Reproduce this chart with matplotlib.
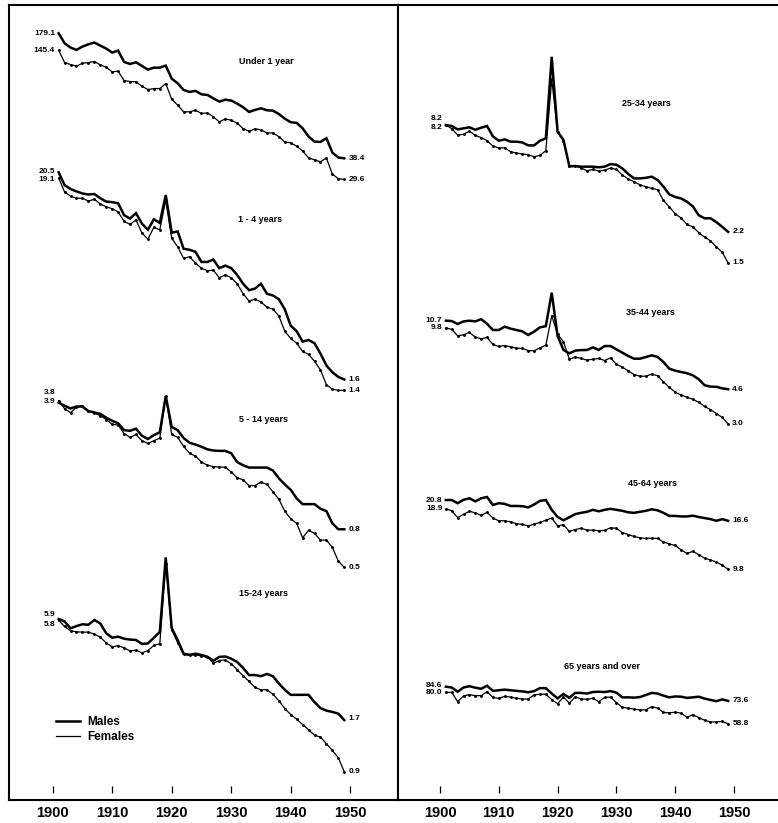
#!/usr/bin/env python3
"""Death rates per 1,000 by age group and sex, 1901-1949 (ratio scale)."""

import matplotlib.pyplot as plt
from matplotlib.lines import Line2D
from matplotlib.transforms import blended_transform_factory

YEARS = list(range(1901, 1950))

UNDER1_M = [179.1, 158.4, 150.2, 145.9, 152.0, 156.4, 159.7, 153.9, 148.3, 141.2,
            144.7, 125.8, 122.8, 125.3, 119.8, 114.5, 117.3, 117.3, 120.3, 102.5,
            96.8, 89.2, 87.0, 88.1, 84.5, 83.8, 80.4, 77.2, 79.1, 78.2,
            75.3, 72.0, 68.0, 69.7, 71.1, 69.4, 69.1, 66.3, 62.6, 59.9,
            59.4, 55.6, 50.2, 47.2, 47.0, 49.2, 41.2, 38.8, 38.4]
UNDER1_F = [145.4, 124.9, 121.9, 119.4, 123.9, 124.9, 126.5, 121.4, 117.9, 111.4,
            112.3, 100.1, 98.9, 98.5, 93.3, 89.6, 90.7, 90.7, 96.4, 79.5,
            73.9, 68.1, 68.1, 69.4, 66.7, 67.2, 64.0, 60.2, 62.4, 61.4,
            59.2, 55.4, 53.6, 55.2, 54.5, 52.5, 52.5, 50.2, 47.0, 46.5,
            44.6, 42.1, 38.6, 37.7, 36.8, 38.6, 31.6, 29.9, 29.6]

AGE1_4_M = [20.5, 17.5, 16.7, 16.2, 15.8, 15.6, 15.7, 14.9, 14.3, 14.2,
            14.0, 12.1, 11.6, 12.4, 10.9, 10.1, 11.5, 11.0, 15.5, 9.75,
            9.9, 8.0, 7.9, 7.7, 6.8, 6.8, 7.0, 6.3, 6.5, 6.3,
            5.8, 5.2, 4.8, 4.9, 5.2, 4.6, 4.5, 4.3, 3.8, 3.1,
            2.9, 2.55, 2.6, 2.5, 2.2, 1.9, 1.75, 1.65, 1.6]
AGE1_4_F = [19.1, 16.1, 15.3, 14.9, 14.9, 14.4, 14.7, 13.9, 13.4, 13.1,
            12.6, 11.2, 10.8, 11.4, 9.7, 9.0, 10.4, 10.1, 14.6, 9.1,
            8.2, 7.1, 7.25, 6.7, 6.3, 6.1, 6.15, 5.6, 5.8, 5.6,
            5.2, 4.6, 4.2, 4.3, 4.15, 3.9, 3.8, 3.5, 2.9, 2.65,
            2.5, 2.26, 2.18, 2.0, 1.8, 1.5, 1.42, 1.4, 1.4]

AGE5_14_M = [3.8, 3.66, 3.54, 3.63, 3.62, 3.43, 3.37, 3.31, 3.16, 3.04,
             2.95, 2.71, 2.69, 2.76, 2.53, 2.43, 2.55, 2.64, 4.13, 2.82,
             2.71, 2.46, 2.32, 2.27, 2.21, 2.14, 2.11, 2.10, 2.10, 2.04,
             1.83, 1.76, 1.71, 1.71, 1.71, 1.71, 1.65, 1.50, 1.39, 1.30,
             1.17, 1.09, 1.09, 1.09, 1.03, 1.0, 0.86, 0.8, 0.8]
AGE5_14_F = [3.9, 3.53, 3.36, 3.59, 3.67, 3.43, 3.35, 3.24, 3.09, 2.91,
             2.89, 2.60, 2.48, 2.57, 2.38, 2.30, 2.38, 2.46, 4.11, 2.57,
             2.48, 2.22, 2.04, 1.97, 1.83, 1.76, 1.73, 1.72, 1.72, 1.62,
             1.51, 1.47, 1.37, 1.37, 1.43, 1.39, 1.27, 1.16, 1.0, 0.91,
             0.86, 0.72, 0.79, 0.76, 0.70, 0.70, 0.64, 0.54, 0.5]

AGE15_24_M = [5.9, 5.73, 5.26, 5.41, 5.53, 5.5, 5.83, 5.59, 4.95, 4.69,
              4.75, 4.63, 4.58, 4.56, 4.34, 4.37, 4.69, 5.03, 12.6, 5.28,
              4.56, 3.85, 3.80, 3.85, 3.79, 3.71, 3.53, 3.70, 3.72, 3.62,
              3.48, 3.23, 2.96, 2.96, 2.92, 3.0, 2.92, 2.67, 2.47, 2.32,
              2.32, 2.32, 2.32, 2.12, 1.97, 1.91, 1.88, 1.84, 1.7]
AGE15_24_F = [5.8, 5.39, 5.11, 5.04, 5.02, 5.02, 4.90, 4.72, 4.39, 4.19,
              4.25, 4.14, 3.98, 4.02, 3.89, 4.0, 4.26, 4.35, 11.65, 5.17,
              4.41, 3.82, 3.78, 3.8, 3.74, 3.69, 3.43, 3.54, 3.57, 3.40,
              3.16, 2.93, 2.74, 2.54, 2.47, 2.47, 2.34, 2.16, 1.96, 1.82,
              1.72, 1.61, 1.51, 1.41, 1.38, 1.27, 1.17, 1.07, 0.9]

AGE25_34_M = [8.2, 8.1, 7.77, 7.87, 7.97, 7.74, 7.93, 8.1, 7.13, 6.76,
              6.87, 6.68, 6.68, 6.62, 6.38, 6.38, 6.76, 6.96, 19.0, 7.55,
              6.82, 4.93, 4.95, 4.91, 4.91, 4.91, 4.87, 4.91, 5.07, 5.03,
              4.81, 4.49, 4.25, 4.25, 4.28, 4.34, 4.17, 3.84, 3.49, 3.38,
              3.32, 3.19, 3.01, 2.70, 2.60, 2.60, 2.48, 2.34, 2.2]
AGE25_34_F = [8.2, 7.84, 7.25, 7.31, 7.61, 7.22, 7.02, 6.76, 6.33, 6.18,
              6.2, 5.90, 5.81, 5.74, 5.69, 5.55, 5.64, 5.98, 14.4, 7.49,
              6.76, 4.95, 4.97, 4.83, 4.67, 4.75, 4.65, 4.7, 4.83, 4.75,
              4.43, 4.22, 4.08, 3.93, 3.84, 3.76, 3.70, 3.24, 2.99, 2.75,
              2.61, 2.41, 2.34, 2.18, 2.06, 1.97, 1.83, 1.71, 1.5]

AGE35_44_M = [10.7, 10.65, 10.27, 10.6, 10.7, 10.6, 10.9, 10.3, 9.54, 9.54,
              9.94, 9.70, 9.54, 9.38, 8.97, 9.35, 9.86, 10.0, 15.1, 8.86,
              7.46, 7.16, 7.40, 7.45, 7.46, 7.70, 7.46, 7.83, 7.83, 7.52,
              7.22, 6.93, 6.70, 6.70, 6.84, 6.98, 6.85, 6.43, 5.92, 5.78,
              5.69, 5.60, 5.46, 5.20, 4.83, 4.75, 4.74, 4.65, 4.6]
AGE35_44_F = [9.8, 9.6, 8.88, 8.99, 9.25, 8.74, 8.56, 8.7, 7.98, 7.79,
              7.88, 7.75, 7.63, 7.6, 7.41, 7.38, 7.66, 7.91, 11.36, 9.07,
              8.25, 6.66, 6.83, 6.72, 6.58, 6.66, 6.72, 6.55, 6.77, 6.26,
              6.04, 5.77, 5.51, 5.40, 5.4, 5.54, 5.43, 5.04, 4.70, 4.44,
              4.28, 4.17, 4.06, 3.92, 3.72, 3.58, 3.41, 3.25, 3.0]

AGE45_64_M = [20.8, 20.8, 20.1, 20.85, 21.2, 20.5, 21.2, 21.5, 19.7, 20.1,
              19.95, 19.5, 19.5, 19.45, 19.2, 19.8, 20.6, 20.8, 18.7, 17.3,
              16.7, 17.25, 17.85, 18.1, 18.3, 18.7, 18.4, 18.7, 18.9, 18.7,
              18.5, 18.2, 18.1, 18.3, 18.5, 18.8, 18.6, 18.1, 17.5, 17.5,
              17.4, 17.4, 17.55, 17.3, 17.1, 16.9, 16.6, 16.9, 16.6]
AGE45_64_F = [18.9, 18.5, 17.2, 17.8, 18.4, 18.1, 17.6, 18.2, 17.1, 16.6,
              16.6, 16.4, 16.1, 15.96, 15.7, 16.0, 16.3, 16.7, 17.1, 15.7,
              15.9, 14.8, 15.1, 15.3, 15.0, 15.0, 14.9, 14.95, 15.4, 15.3,
              14.6, 14.3, 14.0, 13.8, 13.7, 13.75, 13.7, 13.2, 12.9, 12.7,
              12.1, 11.65, 11.9, 11.5, 11.05, 10.85, 10.6, 10.25, 9.8]

AGE65_M = [84.6, 83.9, 80.5, 83.9, 85.0, 83.8, 82.9, 85.4, 81.2, 81.7,
           82.2, 81.7, 81.2, 80.8, 80.1, 81.0, 83.4, 83.4, 79.1, 75.4,
           78.8, 75.8, 79.6, 79.6, 79.1, 80.3, 80.5, 80.3, 81.0, 79.8,
           76.2, 76.2, 76.0, 76.4, 78.0, 79.6, 79.1, 77.5, 76.2, 76.9,
           76.7, 75.8, 76.2, 76.7, 75.3, 74.3, 73.4, 74.7, 73.6]
AGE65_F = [80.0, 80.0, 73.1, 77.2, 78.3, 77.5, 77.5, 80.6, 76.1, 75.5,
           76.9, 76.4, 75.5, 75.0, 75.0, 78.0, 78.6, 78.6, 74.5, 71.6,
           76.4, 72.0, 76.6, 75.0, 74.8, 75.5, 73.1, 76.1, 76.4, 72.4,
           69.1, 68.6, 67.9, 67.4, 67.4, 69.6, 68.6, 65.7, 65.5, 65.9,
           65.3, 62.7, 64.3, 62.5, 60.9, 59.9, 59.9, 60.2, 58.8]

TITLES = ["Under 1 year", "1 - 4 years", "5 - 14 years", "15-24 years",
          "25-34 years", "35-44 years", "45-64 years", "65 years and over"]
MALES = [UNDER1_M, AGE1_4_M, AGE5_14_M, AGE15_24_M,
         AGE25_34_M, AGE35_44_M, AGE45_64_M, AGE65_M]
FEMALES = [UNDER1_F, AGE1_4_F, AGE5_14_F, AGE15_24_F,
           AGE25_34_F, AGE35_44_F, AGE45_64_F, AGE65_F]

DECADE_TICKS = [1900, 1910, 1920, 1930, 1940, 1950]

# layout: panel, height of first male point (axes fraction), pixels per decade,
# title position, start-label nudges (male, female) in points, end-label nudges
LAYOUT = [
    ("left", 0.9638, 187, (0.661, 0.9277), (0, 0), (0, 0)),
    ("left", 0.7889, 187, (0.645, 0.7298), (0.8, -0.8), (0, 0)),
    ("left", 0.4991, 187, (0.653, 0.4782), (7.0, -0.5), (0, 0)),
    ("left", 0.2270, 187, (0.653, 0.2594), (3.6, -3.0), (1.2, 0)),
    ("right", 0.8484, 187, (0.654, 0.8761), (4.8, -1.7), (0, 0)),
    ("right", 0.6023, 187, (0.665, 0.6128), (0, 0), (0, 0)),
    ("right", 0.3767, 212, (0.670, 0.3977), (0, 0), (0, 0)),
    ("right", 0.1419, 235, (0.536, 0.1670), (1.0, 0), (0, 0)),
]

W, H = 778, 823
PANEL_PX = 795
PANELS = {
    "left": ([9 / W, 23.5 / H, 389 / W, PANEL_PX / H], (1892.66, 1958.03)),
    "right": ([398 / W, 23.5 / H, 380 / W, PANEL_PX / H], (1892.86, 1957.48)),
}

MALE_STYLE = dict(color="black", linewidth=1.8, solid_joinstyle="miter")
FEMALE_STYLE = dict(color="black", linewidth=0.9, marker="o", markersize=1.1)

plt.rcParams["font.family"] = ["Liberation Sans", "DejaVu Sans"]
plt.rcParams["font.weight"] = "bold"

fig = plt.figure(figsize=(W / 100, H / 100), dpi=100)
fig.patch.set_facecolor("white")

frames = {}
for name, (rect, xlim) in PANELS.items():
    ax = fig.add_axes(rect)
    ax.set_xlim(*xlim)
    ax.set_ylim(0, 1)
    ax.set_yticks([])
    ax.set_xticks(DECADE_TICKS)
    ax.set_xticklabels([str(t) for t in DECADE_TICKS], fontsize=10.5, fontweight="bold")
    ax.tick_params(axis="x", length=0, pad=5)
    for side in ("left", "right", "top", "bottom"):
        ax.spines[side].set_linewidth(1.5)
    if name == "right":
        ax.spines["right"].set_visible(False)
    # short tick marks sitting just above the baseline
    trans = blended_transform_factory(ax.transData, ax.transAxes)
    ax.vlines(DECADE_TICKS, 0.008, 0.017, transform=trans, color="black", linewidth=0.9)
    frames[name] = ax

for title, male, female, (panel, anchor, ppd, title_xy, start_dy, end_dy) in zip(
        TITLES, MALES, FEMALES, LAYOUT):
    rect, xlim = PANELS[panel]
    gax = fig.add_axes(rect)
    gax.set_axis_off()
    gax.patch.set_alpha(0)
    gax.set_yscale("log")
    decades = PANEL_PX / ppd
    top = male[0] * 10 ** ((1 - anchor) * decades)
    gax.set_ylim(top / 10 ** decades, top)
    gax.set_xlim(*xlim)

    gax.plot(YEARS, male, **MALE_STYLE)
    gax.plot(YEARS, female, **FEMALE_STYLE)

    for series, dy0, dy1 in ((male, start_dy[0], end_dy[0]),
                             (female, start_dy[1], end_dy[1])):
        gax.annotate(f"{series[0]:.1f}", xy=(YEARS[0], series[0]),
                     xytext=(-2.5, dy0), textcoords="offset points",
                     ha="right", va="center", fontsize=6, fontweight="bold")
        gax.annotate(f"{series[-1]:.1f}", xy=(YEARS[-1], series[-1]),
                     xytext=(3, dy1), textcoords="offset points",
                     ha="left", va="center", fontsize=6, fontweight="bold")

    frames[panel].text(title_xy[0], title_xy[1], title, transform=frames[panel].transAxes,
                       ha="center", va="center", fontsize=6.5, fontweight="bold")

handles = [Line2D([], [], **MALE_STYLE), Line2D([], [], color="black", linewidth=0.9)]
frames["left"].legend(handles, ["Males", "Females"], loc="upper left",
                      bbox_to_anchor=(0.121, 0.1053), frameon=False,
                      handlelength=2.0, handletextpad=0.6,
                      labelspacing=0.3, borderpad=0, borderaxespad=0,
                      prop={"weight": "bold", "size": 8.5})

fig.savefig("out.png", dpi=100, facecolor="white")
